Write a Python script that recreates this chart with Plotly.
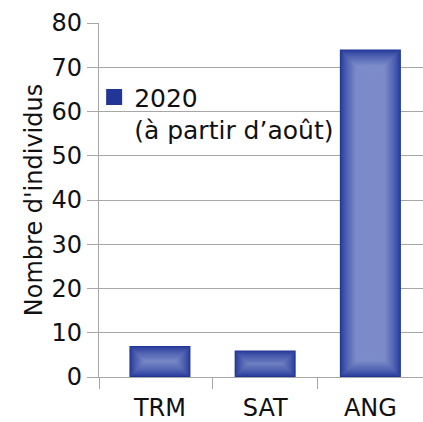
import plotly.graph_objects as go

categories = ["TRM", "SAT", "ANG"]
values = [7, 6, 74]
series_name = "2020<br>(à partir d’août)"
y_ticks = [0, 10, 20, 30, 40, 50, 60, 70, 80]

x_pos = list(range(len(categories)))

W, H = 423, 422
ml, mr, mt, mb = 99, 0, 23, 45
x_range = [-0.579, 2.5]
y_range = [0, 80]
px_x = (W - ml - mr) / (x_range[1] - x_range[0])
px_y = (H - mt - mb) / (y_range[1] - y_range[0])

edge = (34, 54, 152)
center = (124, 139, 201)
bar_width = 0.58
fade_px = 16

fig = go.Figure()

# fake the gradient fill: nested bars shrinking by 1px per layer
for d in range(0, 31):
    g = min(d / fade_px, 1) ** 0.75
    col = "rgb(%d,%d,%d)" % tuple(round(e + (c - e) * g) for e, c in zip(edge, center))
    dy = d / px_y
    fig.add_trace(go.Bar(
        x=x_pos,
        y=[max(v - 2 * dy, 0) for v in values],
        base=[dy for v in values],
        width=bar_width - 2 * d / px_x,
        marker=dict(color=col, line=dict(width=0)),
        showlegend=False,
        hoverinfo="skip",
    ))

# legend entry
fig.add_trace(go.Scatter(
    x=[None], y=[None], mode="markers",
    marker=dict(symbol="square", size=16, color="rgb(%d,%d,%d)" % edge),
    name=series_name,
))

grid = "#a6a6a6"
font = "DejaVu Sans"

fig.update_layout(
    width=W, height=H,
    margin=dict(l=ml, r=mr, t=mt, b=mb, autoexpand=False),
    barmode="overlay",
    plot_bgcolor="white",
    paper_bgcolor="white",
    font=dict(family=font, size=24, color="#111111"),
    legend=dict(x=-0.015, y=0.855, xanchor="left", yanchor="top",
                bgcolor="rgba(0,0,0,0)", valign="top",
                font=dict(size=25), itemwidth=30, tracegroupgap=0),
    xaxis=dict(
        range=x_range, automargin=False,
        tickvals=x_pos, ticktext=categories,
        ticks="", showgrid=False,
        showline=True, linecolor=grid, linewidth=1.3,
        zeroline=False, ticklabelstandoff=9,
        minor=dict(tickvals=[-0.578, 0.5, 1.5], ticks="outside",
                   ticklen=11, tickcolor=grid, tickwidth=1.3, showgrid=False),
    ),
    yaxis=dict(
        range=y_range, automargin=False,
        tickvals=y_ticks,
        ticks="outside", ticklen=11, tickcolor=grid, tickwidth=1.3,
        showgrid=True, gridcolor=grid, gridwidth=1.3,
        showline=True, linecolor=grid, linewidth=1.3,
        zeroline=False,
        title=dict(text="Nombre d'individus", font=dict(size=24), standoff=2),
    ),
)

# drop the browser's default 8px body margin
fig.write_html("out.html", config={"displayModeBar": False},
               post_script="document.body.style.margin='0';")
